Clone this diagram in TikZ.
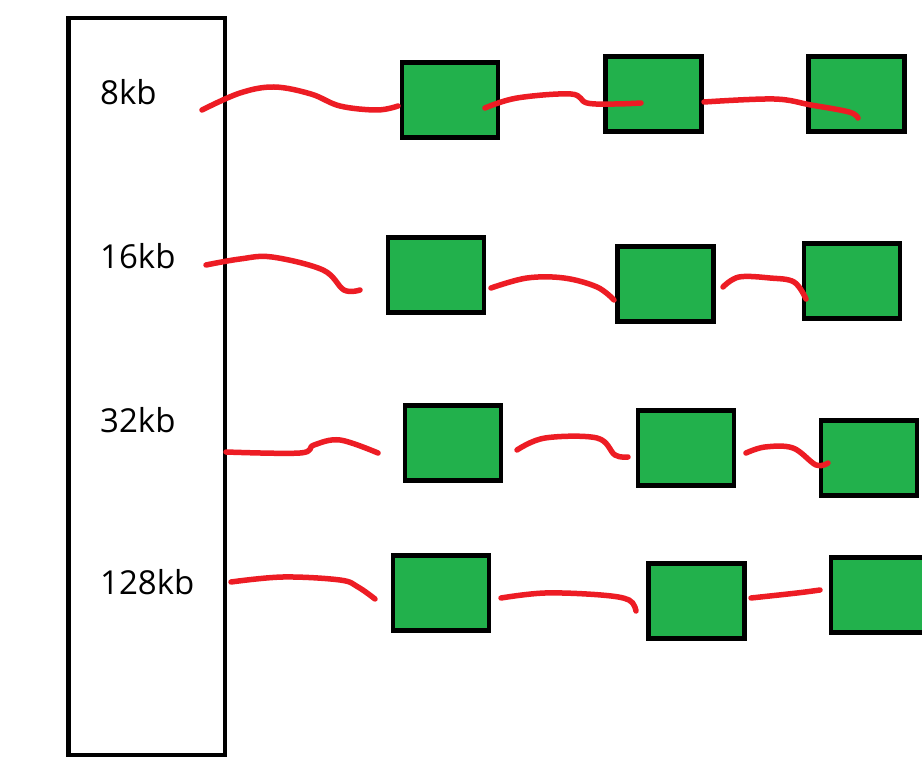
\documentclass[tikz,border=0pt]{standalone}
\usepackage{fontspec}
\setmainfont{Open Sans}
\definecolor{boxgreen}{HTML}{22B14C}
\definecolor{penred}{HTML}{ED1C24}
\begin{document}
\begin{tikzpicture}[x=1pt,y=-1pt,
  blockbox/.style={draw=black, fill=boxgreen, line width=4.5pt, minimum width=96pt, minimum height=75pt, inner sep=0pt},
  sizelabel/.style={anchor=base west, inner sep=0pt, font=\fontsize{33}{38}\selectfont},
  link/.style={draw=penred, line width=5.5pt, line cap=round, line join=round}]
\useasboundingbox (0,0) rectangle (922,783);
\fill[white] (0,0) rectangle (922,783);
% size table
\node[draw, line width=4.5pt, minimum width=156.5pt, minimum height=737pt, inner sep=0pt] (table) at (146.75,386.5) {};
\node[sizelabel] (l8) at (100,105) {8kb};
\node[sizelabel] (l16) at (100,269) {16kb};
\node[sizelabel] (l32) at (100,433) {32kb};
\node[sizelabel] (l128) at (100,595) {128kb};
% blocks
\node[blockbox] (b11) at (450,100) {};
\node[blockbox] (b12) at (653.5,94) {};
\node[blockbox] (b13) at (856.5,94) {};
\node[blockbox] (b21) at (436,275) {};
\node[blockbox] (b22) at (665.5,284) {};
\node[blockbox] (b23) at (852,281) {};
\node[blockbox] (b31) at (453,443) {};
\node[blockbox] (b32) at (686,448) {};
\node[blockbox] (b33) at (869,458) {};
\node[blockbox] (b41) at (441,593) {};
\node[blockbox] (b42) at (696.5,601) {};
\node[blockbox] (b43) at (879,595) {};
% hand drawn links
\path[link] plot[smooth, tension=0.6] coordinates {(202,110) (240,93) (274,87) (311,94) (340,106) (377,110) (398,106)};
\path[link] plot[smooth, tension=0.6] coordinates {(485,108) (517,98) (571,94) (587,103) (615,104) (641,103)};
\path[link] plot[smooth, tension=0.6] coordinates {(704,102) (774,99) (811,105) (849,112) (858,118)};
\path[link] plot[smooth, tension=0.6] coordinates {(206,265) (240,259) (272,257) (323,270) (344,290) (360,290)};
\path[link] plot[smooth, tension=0.6] coordinates {(491,288) (527,278) (564,278) (597,287) (614,300)};
\path[link] plot[smooth, tension=0.6] coordinates {(723,287) (739,277) (770,278) (794,282) (806,299)};
\path[link] plot[smooth, tension=0.6] coordinates {(226,452) (300,453) (314,445) (340,440) (378,453)};
\path[link] plot[smooth, tension=0.6] coordinates {(517,450) (545,438) (597,438) (615,455) (628,457)};
\path[link] plot[smooth, tension=0.6] coordinates {(746,453) (765,447) (793,448) (816,465) (828,463)};
\path[link] plot[smooth, tension=0.6] coordinates {(231,582) (283,577) (340,580) (358,587) (375,599)};
\path[link] plot[smooth, tension=0.6] coordinates {(501,598) (545,593) (601,595) (629,600) (636,611)};
\path[link] plot[smooth, tension=0.6] coordinates {(751,598) (797,593) (820,590)};
\end{tikzpicture}
\end{document}
